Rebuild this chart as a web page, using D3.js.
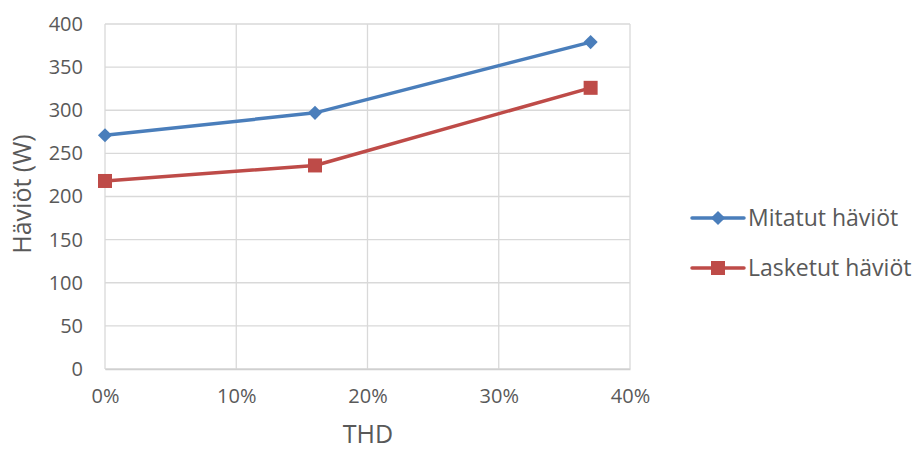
<!DOCTYPE html>
<html>
<head>
<meta charset="utf-8">
<script src="https://cdn.jsdelivr.net/npm/d3@7"></script>
<style>
  body { margin: 0; background: #fff; }
  text { font-family: "Open Sans", "Liberation Sans", sans-serif; fill: #595959; }
</style>
</head>
<body>
<svg id="chart" width="917" height="450"></svg>
<script>
// THD levels (fraction) and the two loss series (W)
const thd = [0, 0.16, 0.37];
const measured = [271, 297, 379];
const calculated = [218, 236, 326];
const seriesNames = ["Mitatut häviöt", "Lasketut häviöt"];
const yTicks = [0, 50, 100, 150, 200, 250, 300, 350, 400];
const xTicks = [0, 0.1, 0.2, 0.3, 0.4];

const svg = d3.select("#chart");
const plotLeft = 105, plotRight = 630, plotTop = 24, plotBottom = 369;

const x = d3.scaleLinear().domain([0, 0.4]).range([plotLeft, plotRight]);
const y = d3.scaleLinear().domain([0, 400]).range([plotBottom, plotTop]);

// gridlines
svg.append("g").selectAll("line").data(yTicks).join("line")
  .attr("x1", plotLeft).attr("x2", plotRight)
  .attr("y1", d => y(d)).attr("y2", d => y(d))
  .attr("stroke", "#d9d9d9").attr("stroke-width", 1.3);
svg.append("g").selectAll("line").data(xTicks).join("line")
  .attr("x1", d => x(d)).attr("x2", d => x(d))
  .attr("y1", plotTop).attr("y2", plotBottom)
  .attr("stroke", "#d9d9d9").attr("stroke-width", 1.3);

// axes
const yAxis = svg.append("g").attr("transform", `translate(${plotLeft},0)`)
  .call(d3.axisLeft(y).tickValues(yTicks).tickSize(0).tickPadding(22));
yAxis.select(".domain").remove();
yAxis.selectAll("text").attr("font-size", 20).style("font-family", "'Open Sans', sans-serif").attr("fill", "#595959");

const xAxis = svg.append("g").attr("transform", `translate(0,${plotBottom})`)
  .call(d3.axisBottom(x).tickValues(xTicks).tickFormat(d3.format(".0%")).tickSize(0).tickPadding(20));
xAxis.select(".domain").attr("stroke", "#d0d0d0").attr("stroke-width", 1.5);
xAxis.selectAll("text").attr("font-size", 20).style("font-family", "'Open Sans', sans-serif").attr("fill", "#595959");

// axis titles
svg.append("text").attr("x", 368).attr("y", 443).attr("text-anchor", "middle")
  .attr("font-size", 25).text("THD");
svg.append("text").attr("transform", "translate(31,194) rotate(-90)")
  .attr("text-anchor", "middle").attr("font-size", 25).text("Häviöt (W)");

const colors = ["#4a7ebb", "#be4b48"];
const data = [measured, calculated];
const line = d3.line().x((d, i) => x(thd[i])).y(d => y(d));

// diamond for measured, square for calculated
function drawMarker(g, k, cx, cy) {
  if (k === 0) {
    g.append("path").attr("d", d3.symbol().type(d3.symbolSquare).size(100)())
      .attr("transform", `translate(${cx},${cy}) rotate(45)`).attr("fill", colors[0]);
  } else {
    g.append("rect").attr("x", cx - 7).attr("y", cy - 7).attr("width", 14).attr("height", 14)
      .attr("fill", colors[1]);
  }
}

data.forEach((vals, k) => {
  svg.append("path").datum(vals).attr("d", line)
    .attr("fill", "none").attr("stroke", colors[k]).attr("stroke-width", 3.5)
    .attr("stroke-linejoin", "round");
  const g = svg.append("g");
  vals.forEach((v, i) => drawMarker(g, k, x(thd[i]), y(v)));
});

// legend
seriesNames.forEach((name, k) => {
  const ly = 218 + k * 50;
  svg.append("line").attr("x1", 692).attr("x2", 744).attr("y1", ly).attr("y2", ly)
    .attr("stroke", colors[k]).attr("stroke-width", 3.5).attr("stroke-linecap", "round");
  drawMarker(svg, k, 718, ly);
  svg.append("text").attr("x", 748).attr("y", ly + 8).attr("font-size", 23).text(name);
});
</script>
</body>
</html>
